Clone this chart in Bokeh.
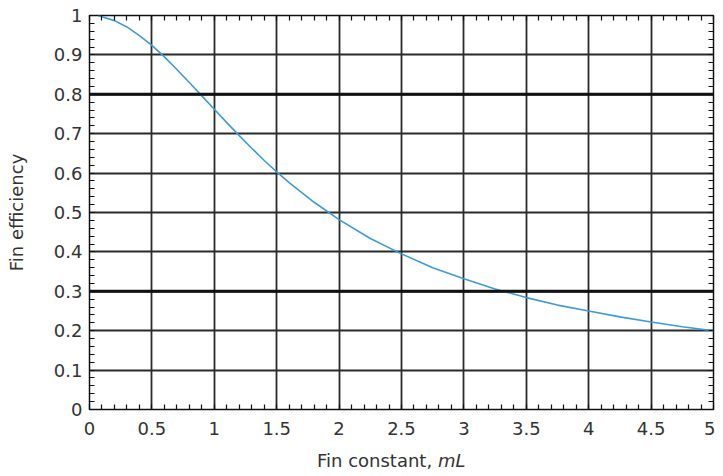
from bokeh.plotting import figure
from bokeh.models import (FixedTicker, LinearAxis, Span, CustomJSTickFormatter,
                          Range1d, Div)
from bokeh.layouts import column
from bokeh.embed import file_html
from bokeh.resources import INLINE

# Fin efficiency vs fin constant mL
mL = [0.07, 0.1, 0.2, 0.3, 0.4, 0.5, 0.6, 0.7, 0.8, 0.9, 1.0, 1.1, 1.2, 1.3, 1.4,
      1.5, 1.6, 1.8, 2.0, 2.25, 2.5, 2.75, 3.0, 3.25, 3.5, 3.75, 4.0, 4.25,
      4.5, 4.75, 5.0]
efficiency = [0.999, 0.997, 0.987, 0.971, 0.949, 0.924, 0.895, 0.863, 0.830, 0.796,
              0.762, 0.728, 0.695, 0.663, 0.632, 0.603, 0.576, 0.526, 0.482,
              0.434, 0.395, 0.360, 0.332, 0.306, 0.284, 0.265, 0.250, 0.235,
              0.222, 0.210, 0.200]

x_ticks = [0, 0.5, 1, 1.5, 2, 2.5, 3, 3.5, 4, 4.5, 5]
y_ticks = [0, 0.1, 0.2, 0.3, 0.4, 0.5, 0.6, 0.7, 0.8, 0.9, 1]
x_minor = [round(i * 0.1, 2) for i in range(51)]
y_minor = [round(i * 0.02, 2) for i in range(51)]
heavy_lines = [0.3, 0.8]

FONT = "DejaVu Sans"
FS = "18px"
TXT = "#333333"

p = figure(width=715, height=446, output_backend="svg", toolbar_location=None,
           x_range=Range1d(0, 5), y_range=Range1d(0, 1),
           min_border_left=89, min_border_right=2, min_border_top=15,
           min_border_bottom=37, x_axis_location=None, y_axis_location=None)
p.outline_line_color = "#111111"
p.outline_line_width = 1.5
p.background_fill_color = "white"
p.border_fill_color = "white"

fmt = CustomJSTickFormatter(code="return String(Math.round(tick*10)/10);")
blank = CustomJSTickFormatter(code="return '';")

def style(ax, labels):
    ax.major_tick_in = 0
    ax.major_tick_out = 0
    ax.minor_tick_in = 5
    ax.minor_tick_out = 0
    ax.minor_tick_line_color = "#111111"
    ax.minor_tick_line_width = 1.2
    ax.axis_line_color = None
    ax.major_label_text_font = FONT
    ax.major_label_text_color = TXT
    if labels:
        ax.formatter = fmt
        ax.major_label_text_font_size = FS
    else:
        ax.formatter = blank
        ax.major_label_text_font_size = "0px"
        ax.major_label_standoff = 0

xb = LinearAxis(ticker=FixedTicker(ticks=x_ticks, minor_ticks=x_minor))
style(xb, True)
xb.major_label_standoff = 12
p.add_layout(xb, "below")

yl = LinearAxis(ticker=FixedTicker(ticks=y_ticks, minor_ticks=y_minor))
style(yl, True)
yl.major_label_standoff = 7
yl.axis_label = "Fin efficiency"
yl.axis_label_text_font = FONT
yl.axis_label_text_font_style = "normal"
yl.axis_label_text_font_size = FS
yl.axis_label_text_color = TXT
yl.axis_label_standoff = 24
p.add_layout(yl, "left")

xt = LinearAxis(ticker=FixedTicker(ticks=x_ticks, minor_ticks=x_minor))
style(xt, False)
p.add_layout(xt, "above")

yr = LinearAxis(ticker=FixedTicker(ticks=y_ticks, minor_ticks=y_minor))
style(yr, False)
p.add_layout(yr, "right")

p.xgrid.ticker = FixedTicker(ticks=x_ticks)
p.ygrid.ticker = FixedTicker(ticks=y_ticks)
for g in (p.xgrid, p.ygrid):
    g.grid_line_color = "#2a2a2a"
    g.grid_line_width = 1.8

for yv in heavy_lines:
    p.add_layout(Span(location=yv, dimension="width", line_color="#111111",
                      line_width=3))

p.line(mL, efficiency, line_color="#3d9bd8", line_width=1.6)

xlabel = Div(
    text=('<div style="font-family: \'DejaVu Sans\'; font-size: 18px; color: #333333;'
          ' line-height: 20px; padding-left: 312px; white-space: nowrap;">'
          'Fin constant, <i>mL</i></div>'),
    width=715, height=24)

layout = column(p, xlabel, spacing=0)

open("out.html", "w").write(file_html(layout, INLINE))
